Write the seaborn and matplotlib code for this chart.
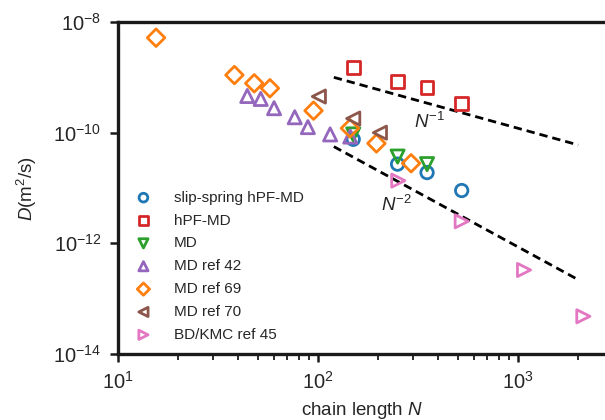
import numpy as np
import pandas as pd
import matplotlib
matplotlib.use("Agg")
import matplotlib.pyplot as plt
import seaborn as sns

# ---- data ----
ss_N = [150, 250, 351, 523]
ss_D = [7.6e-11, 2.7e-11, 1.9e-11, 9.0e-12]

hpf_N = [151, 250, 351, 523]
hpf_D = [1.52e-9, 8.4e-10, 6.6e-10, 3.4e-10]

md_N = [150, 250, 351]
md_D = [9.3e-11, 3.7e-11, 2.7e-11]

md42_N = [44.3, 51.7, 60.3, 76.5, 89, 115, 145]
md42_D = [4.6e-10, 4.07e-10, 2.77e-10, 1.9e-10, 1.26e-10, 9.3e-11, 8.5e-11]

md69_N = [15.5, 38.2, 48, 57.5, 95, 144.5, 196, 292]
md69_D = [5.2e-9, 1.1e-9, 7.8e-10, 6.35e-10, 2.5e-10, 1.2e-10, 6.4e-11, 2.8e-11]

md70_N = [101, 150, 204]
md70_D = [4.5e-10, 1.8e-10, 1.0e-10]

bd_N = [252, 523, 1072, 2122]
bd_D = [1.36e-11, 2.5e-12, 3.3e-13, 4.8e-14]

guide_N = [120, 2000]
guide1_D = [1.0e-9, 6.0e-11]
guide2_D = [5.6e-11, 2.2e-13]

labels = ["slip-spring hPF-MD", "hPF-MD", "MD", "MD ref 42",
          "MD ref 69", "MD ref 70", "BD/KMC ref 45"]
xticks = [10, 100, 1000]
yticks = [1e-14, 1e-12, 1e-10, 1e-8]

# ---- style ----
sns.set_style("ticks")
plt.rcParams["font.family"] = ["Liberation Sans", "DejaVu Sans"]
plt.rcParams["mathtext.fontset"] = "custom"
plt.rcParams["mathtext.rm"] = "Liberation Sans"
plt.rcParams["mathtext.it"] = "Liberation Sans:italic"
plt.rcParams["mathtext.bf"] = "Liberation Sans:bold"

series = [
    (ss_N, ss_D, "#1f77b4", "o", 80),
    (hpf_N, hpf_D, "#d62728", "s", 85),
    (md_N, md_D, "#2ca02c", "v", 90),
    (md42_N, md42_D, "#9467bd", "^", 90),
    (md69_N, md69_D, "#ff7f0e", "D", 80),
    (md70_N, md70_D, "#8c564b", "<", 90),
    (bd_N, bd_D, "#e377c2", ">", 90),
]

fig = plt.figure(figsize=(6.05, 4.2), dpi=100)
ax = fig.add_axes([118 / 605, 66 / 420, 1 - 118 / 605, (354 - 22) / 420])

for (N, D, c, m, s), lab in zip(series, labels):
    df = pd.DataFrame({"N": N, "D": D})
    sns.scatterplot(data=df, x="N", y="D", ax=ax, marker=m, s=s,
                    facecolor="none", edgecolor=c, linewidth=2.0,
                    label=lab, zorder=3)

g1 = pd.DataFrame({"N": guide_N, "D": guide1_D})
g2 = pd.DataFrame({"N": guide_N, "D": guide2_D})
sns.lineplot(data=g1, x="N", y="D", ax=ax, color="black", lw=2.0,
             ls=(0, (3, 1.8)), legend=False, zorder=2)
sns.lineplot(data=g2, x="N", y="D", ax=ax, color="black", lw=2.0,
             ls=(0, (3, 1.8)), legend=False, zorder=2)

ax.set_xscale("log")
ax.set_yscale("log")
ax.set_xlim(10, 10 ** (1 + 487 / 200))
ax.set_ylim(1e-14, 1e-8)
ax.set_xticks(xticks)
ax.set_yticks(yticks)
ax.yaxis.set_minor_locator(matplotlib.ticker.NullLocator())

ax.text(363, 1.57e-10, r"$N^{-1}$", fontsize=13.5, ha="center", va="center")
ax.text(247, 5.0e-12, r"$N^{-2}$", fontsize=13.5, ha="center", va="center")

ax.set_xlabel(r"chain length $N$", fontsize=13.5, labelpad=5)
ax.set_ylabel(r"$D$(m$^2$/s)", fontsize=13.5, labelpad=10)

for side in ["left", "bottom", "top"]:
    ax.spines[side].set_linewidth(2.4)
    ax.spines[side].set_color("#1a1a1a")
ax.spines["right"].set_visible(False)
ax.tick_params(which="major", direction="out", length=6, width=1.8,
               labelsize=14.5, pad=6, color="#1a1a1a")
ax.tick_params(which="minor", direction="out", length=4, width=1.3,
               color="#1a1a1a")
ax.tick_params(axis="x", which="both", top=False)

leg = ax.legend(loc="upper left", bbox_to_anchor=(0.035, 0.492),
                frameon=False, fontsize=11, markerscale=0.7,
                handlelength=1.1, handletextpad=1.45, labelspacing=0.58,
                borderaxespad=0, borderpad=0)

fig.savefig("out.png", dpi=100)
